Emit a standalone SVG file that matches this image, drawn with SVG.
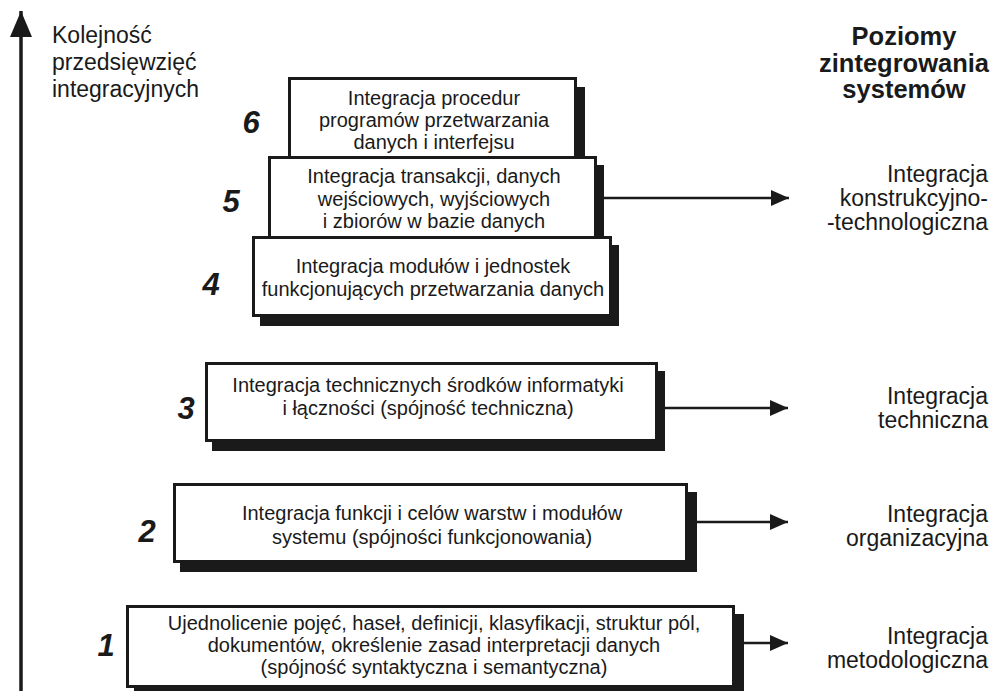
<svg xmlns="http://www.w3.org/2000/svg" width="995" height="691" viewBox="0 0 995 691">
<style>
.box{fill:#fff;stroke:#1a1a1a;stroke-width:3}
.sh{fill:#1a1a1a}
.t{font-family:"Liberation Sans",Arial,sans-serif;font-size:20px;fill:#1a1a1a;text-anchor:middle}
.lbl{font-family:"Liberation Sans",Arial,sans-serif;font-size:23px;fill:#1a1a1a}
.r{text-anchor:end}
.ttl{font-family:"Liberation Sans",Arial,sans-serif;font-size:25.5px;font-weight:bold;fill:#1a1a1a;text-anchor:middle}
.num{font-family:"Liberation Sans",Arial,sans-serif;font-size:31px;font-weight:bold;font-style:italic;fill:#1a1a1a;text-anchor:middle}
.conn{stroke:#1a1a1a;stroke-width:2.5;fill:none}
</style>
<defs>
<marker id="ah" markerUnits="userSpaceOnUse" markerWidth="19" markerHeight="17" refX="18" refY="8" orient="auto">
<path d="M0,0 L18,8 L0,16 z" fill="#1a1a1a"/>
</marker>
<marker id="ax" markerUnits="userSpaceOnUse" markerWidth="23" markerHeight="27" refX="11" refY="0" orient="0">
<path d="M11,0 L22,26 L0,26 z" fill="#1a1a1a"/>
</marker>
</defs>
<g id="axis">
<line x1="21" y1="691" x2="21" y2="11" stroke="#1a1a1a" stroke-width="3.5" marker-end="url(#ax)"/>
<text class="lbl" x="52" y="43">Kolejność</text>
<text class="lbl" x="52" y="70">przedsięwzięć</text>
<text class="lbl" x="52" y="97">integracyjnych</text>
</g>
<g id="title">
<text class="ttl" x="904" y="45">Poziomy</text>
<text class="ttl" x="904" y="72">zintegrowania</text>
<text class="ttl" x="904" y="98">systemów</text>
</g>
<g id="connectors">
<line class="conn" x1="604" y1="198" x2="789" y2="198" marker-end="url(#ah)"/>
<line class="conn" x1="665" y1="408" x2="788" y2="408" marker-end="url(#ah)"/>
<line class="conn" x1="697" y1="522" x2="788" y2="522" marker-end="url(#ah)"/>
<line class="conn" x1="744" y1="643" x2="788" y2="643" marker-end="url(#ah)"/>
</g>
<g id="box6">
<rect class="sh" x="297" y="87" width="288" height="82"/>
<rect class="box" x="289.5" y="78.5" width="286" height="80"/>
<text class="t" x="434" y="105">Integracja procedur</text>
<text class="t" x="434" y="127">programów przetwarzania</text>
<text class="t" x="434" y="149">danych i interfejsu</text>
<text class="num" x="251" y="133">6</text>
</g>
<g id="box5">
<rect class="sh" x="276" y="165" width="328" height="83"/>
<rect class="box" x="269.5" y="157.5" width="326" height="80"/>
<text class="t" x="434" y="183">Integracja transakcji, danych</text>
<text class="t" x="434" y="205.5">wejściowych, wyjściowych</text>
<text class="t" x="434" y="228">i zbiorów w bazie danych</text>
<text class="num" x="231" y="212">5</text>
</g>
<g id="box4">
<rect class="sh" x="260" y="245" width="359" height="81"/>
<rect class="box" x="253.5" y="237.5" width="357" height="78"/>
<text class="t" x="433" y="273">Integracja modułów i jednostek</text>
<text class="t" x="433" y="296">funkcjonujących przetwarzania danych</text>
<text class="num" x="211" y="295">4</text>
</g>
<g id="box3">
<rect class="sh" x="212" y="371" width="453" height="80"/>
<rect class="box" x="206.5" y="363.5" width="450" height="77"/>
<text class="t" x="428" y="392">Integracja technicznych środków informatyki</text>
<text class="t" x="428" y="415">i łączności (spójność techniczna)</text>
<text class="num" x="186" y="419">3</text>
<text class="lbl r" x="988" y="404">Integracja</text>
<text class="lbl r" x="988" y="428">techniczna</text>
</g>
<g id="box2">
<rect class="sh" x="180" y="492" width="517" height="80"/>
<rect class="box" x="174.5" y="484.5" width="512" height="77"/>
<text class="t" x="432" y="520">Integracja funkcji i celów warstw i modułów</text>
<text class="t" x="432" y="544">systemu (spójności funkcjonowania)</text>
<text class="num" x="147" y="542">2</text>
<text class="lbl r" x="988" y="522">Integracja</text>
<text class="lbl r" x="988" y="546">organizacyjna</text>
</g>
<g id="box1">
<rect class="sh" x="134" y="614" width="610" height="82"/>
<rect class="box" x="127.5" y="606.5" width="606" height="80"/>
<text class="t" x="434" y="630">Ujednolicenie pojęć, haseł, definicji, klasyfikacji, struktur pól,</text>
<text class="t" x="434" y="652">dokumentów, określenie zasad interpretacji danych</text>
<text class="t" x="434" y="674">(spójność syntaktyczna i semantyczna)</text>
<text class="num" x="106" y="656">1</text>
<text class="lbl r" x="988" y="644">Integracja</text>
<text class="lbl r" x="988" y="668">metodologiczna</text>
</g>
<g id="top-level">
<text class="lbl r" x="988" y="182">Integracja</text>
<text class="lbl r" x="988" y="206">konstrukcyjno-</text>
<text class="lbl r" x="988" y="230">-technologiczna</text>
</g>
</svg>
